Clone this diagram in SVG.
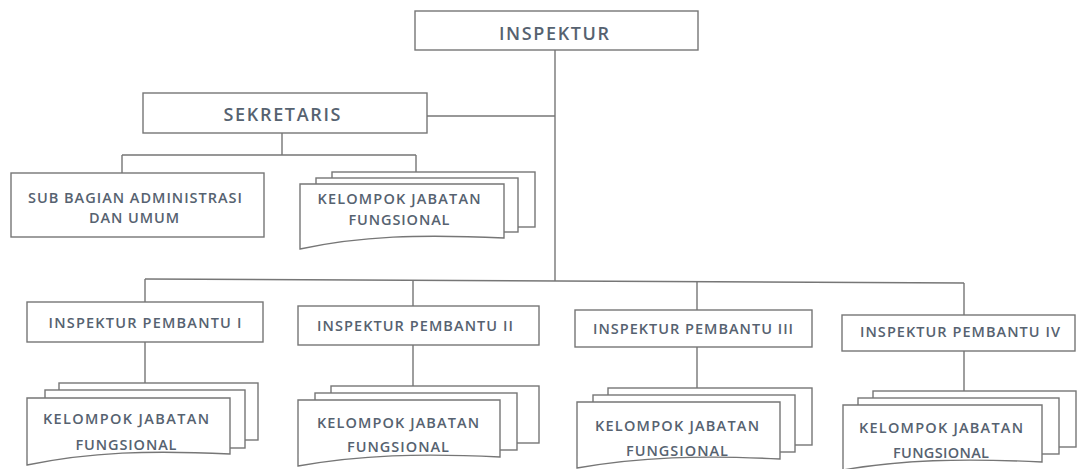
<svg xmlns="http://www.w3.org/2000/svg" width="1077" height="469" viewBox="0 0 1077 469">
<style>
.box{fill:#fff;stroke:#767676;stroke-width:1.4}
.ln{fill:none;stroke:#767676;stroke-width:1.4}
text{font-family:"Open Sans","Liberation Sans",sans-serif;fill:#566270;text-anchor:middle;font-weight:600}
.big{font-size:18px}
.sm{font-size:14.5px}
</style>
<rect width="1077" height="469" fill="#fff"/>
<g id="connectors">
<path class="ln" d="M555,50 V281"/>
<path class="ln" d="M427,116 H555"/>
<path class="ln" d="M282,133 V155 M122,155 H416 M122,155 V173 M416,155 V172"/>
<path class="ln" d="M145,279 L964,283"/>
<path class="ln" d="M145,279 V302 M413,280.3 V306 M697,281.7 V310 M964,283 V315"/>
<path class="ln" d="M145,342 V383 M413,345 V386 M697,347 V388 M964,351 V391"/>
</g>
<g id="inspektur">
<rect class="box" x="415" y="11" width="283" height="39"/>
<text class="big" x="554" y="39.5" textLength="110">INSPEKTUR</text>
</g>
<g id="sekretaris">
<rect class="box" x="143" y="93" width="284" height="40"/>
<text class="big" x="282" y="121" textLength="117">SEKRETARIS</text>
</g>
<g id="subbagian">
<rect class="box" x="11" y="173" width="253" height="64"/>
<text class="sm" x="135" y="203.2" textLength="214">SUB BAGIAN ADMINISTRASI</text>
<text class="sm" x="134" y="222.7" textLength="90">DAN UMUM</text>
</g>
<g id="kjf-sekretaris">
<rect class="box" x="332" y="172" width="203" height="55"/>
<rect class="box" x="316" y="178" width="202" height="54"/>
<path class="box" d="M300,184 H504 V238 C420,234 360,236 300,249 Z"/>
<text class="sm" x="399" y="204.2" textLength="163">KELOMPOK JABATAN</text>
<text class="sm" x="399" y="225.2" textLength="101">FUNGSIONAL</text>
</g>
<g id="ip1">
<rect class="box" x="27" y="302" width="236" height="40"/>
<text class="sm" x="145" y="327.7" textLength="193">INSPEKTUR PEMBANTU I</text>
</g>
<g id="ip2">
<rect class="box" x="298" y="306" width="241" height="39"/>
<text class="sm" x="415" y="331.2" textLength="196">INSPEKTUR PEMBANTU II</text>
</g>
<g id="ip3">
<rect class="box" x="575" y="310" width="237" height="37"/>
<text class="sm" x="693" y="333.7" textLength="200">INSPEKTUR PEMBANTU III</text>
</g>
<g id="ip4">
<rect class="box" x="842" y="315" width="233" height="36"/>
<text class="sm" x="960" y="337.2" textLength="200">INSPEKTUR PEMBANTU IV</text>
</g>
<g id="kjf-1">
<rect class="box" x="59" y="383" width="199" height="57"/>
<rect class="box" x="45" y="390" width="200" height="58"/>
<path class="box" d="M27,398 H230 V454 C150,450 90,452 27,465 Z"/>
<text class="sm" x="126" y="423.7" textLength="166">KELOMPOK JABATAN</text>
<text class="sm" x="126" y="450.2" textLength="101">FUNGSIONAL</text>
</g>
<g id="kjf-2">
<rect class="box" x="331" y="386" width="208" height="57"/>
<rect class="box" x="315" y="393" width="202" height="57"/>
<path class="box" d="M298,400 H500 V457 C420,453 360,455 298,466 Z"/>
<text class="sm" x="398" y="428.2" textLength="162">KELOMPOK JABATAN</text>
<text class="sm" x="398" y="452.2" textLength="102">FUNGSIONAL</text>
</g>
<g id="kjf-3">
<rect class="box" x="608" y="388" width="204" height="57"/>
<rect class="box" x="593" y="395" width="202" height="57"/>
<path class="box" d="M577,402 H780 V459 C700,455 640,457 577,468 Z"/>
<text class="sm" x="677" y="431.2" textLength="164">KELOMPOK JABATAN</text>
<text class="sm" x="677" y="456.2" textLength="102">FUNGSIONAL</text>
</g>
<g id="kjf-4">
<rect class="box" x="873" y="391" width="203" height="56"/>
<rect class="box" x="858" y="398" width="201" height="56"/>
<path class="box" d="M843,405 H1042 V462 C960,458 900,460 843,470 Z"/>
<text class="sm" x="941" y="432.7" textLength="164">KELOMPOK JABATAN</text>
<text class="sm" x="941" y="458.2" textLength="96">FUNGSIONAL</text>
</g>
</svg>
